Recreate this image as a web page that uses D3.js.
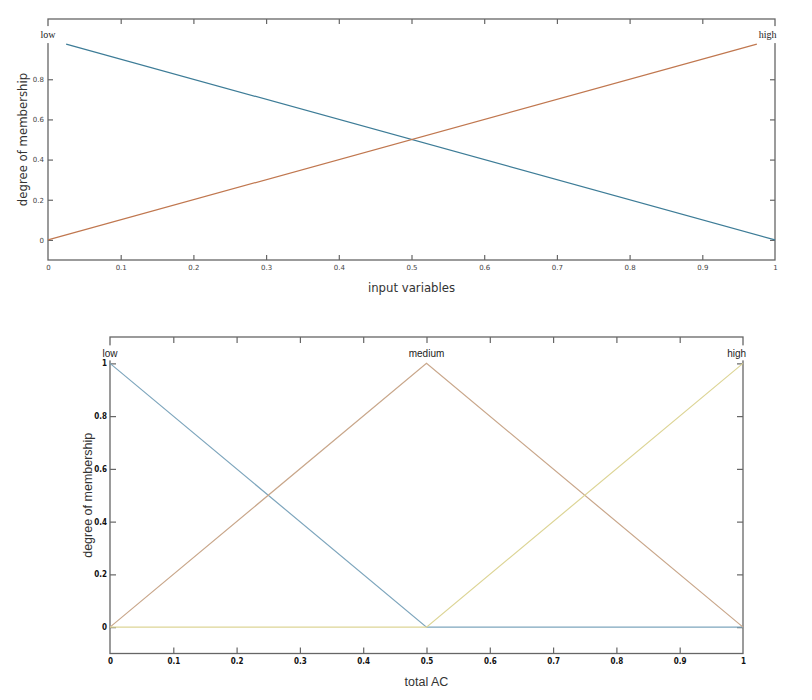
<!DOCTYPE html>
<html>
<head>
<meta charset="utf-8">
<script src="https://cdn.jsdelivr.net/npm/d3@7"></script>
<style>
  body { margin: 0; background: #fff; }
  svg { display: block; }
</style>
</head>
<body>
<div id="chart"></div>
<script>
// ---- data ----
const xTicks = [0, 0.1, 0.2, 0.3, 0.4, 0.5, 0.6, 0.7, 0.8, 0.9, 1];
const yTicksTop = [0, 0.2, 0.4, 0.6, 0.8];
const yTicksBottom = [0, 0.2, 0.4, 0.6, 0.8, 1];

// input membership functions (top panel)
const inLowX = [0.025, 1];
const inLowY = [0.975, 0];
const inHighX = [0, 0.975];
const inHighY = [0, 0.975];
const inLabels = ["low", "high"];
const inLabelX = [0, 0.99];

// output membership functions (bottom panel)
const outLowX = [0, 0.5, 1];
const outLowY = [1, 0, 0];
const outMedX = [0, 0.5, 1];
const outMedY = [0, 1, 0];
const outHighX = [0, 0.5, 1];
const outHighY = [0, 0, 1];
const outLabels = ["low", "medium", "high"];
const outLabelX = [0, 0.5, 0.99];

const svg = d3.select("#chart").append("svg")
    .attr("width", 812)
    .attr("height", 700);

function zip(xs, ys) {
    return xs.map((v, i) => [v, ys[i]]);
}

function drawPanel(cfg) {
    const x = d3.scaleLinear().domain([0, 1]).range([cfg.left, cfg.right]);
    const y = d3.scaleLinear().domain([-0.1, 1.1]).range([cfg.bottom, cfg.top]);
    const g = svg.append("g");
    const axisColor = "#666";

    // box
    g.append("rect")
        .attr("x", cfg.left).attr("y", cfg.top)
        .attr("width", cfg.right - cfg.left).attr("height", cfg.bottom - cfg.top)
        .attr("fill", "none").attr("stroke", axisColor).attr("stroke-width", 1.3);

    // mf labels with white background (drawn before ticks so tick labels stay visible)
    const labelLayer = g.append("g");

    // ticks
    const inner = xTicks.filter(d => d > 0 && d < 1);
    const bx = g.append("g").attr("transform", "translate(0," + cfg.bottom + ")")
        .call(d3.axisBottom(x).tickValues(xTicks).tickSize(-cfg.tick).tickPadding(cfg.xPad)
            .tickFormat(d3.format("")));
    bx.selectAll("line").filter(d => d === 0 || d === 1).remove();
    g.append("g").attr("transform", "translate(0," + cfg.top + ")")
        .call(d3.axisTop(x).tickValues(inner).tickSize(-cfg.tick).tickFormat(""));
    g.append("g").attr("transform", "translate(" + cfg.left + ",0)")
        .call(d3.axisLeft(y).tickValues(cfg.yTicks).tickSize(-cfg.tick).tickPadding(cfg.yPad)
            .tickFormat(d3.format("")));
    g.append("g").attr("transform", "translate(" + cfg.right + ",0)")
        .call(d3.axisRight(y).tickValues(cfg.yTicks).tickSize(-cfg.tick).tickFormat(""));

    g.selectAll(".domain").remove();
    g.selectAll(".tick line").attr("stroke", axisColor).attr("stroke-width", 1.2);
    g.selectAll(".tick text")
        .attr("fill", cfg.tickColor)
        .style("font-family", cfg.tickFont)
        .style("font-size", cfg.tickSize + "px")
        .style("font-weight", cfg.tickWeight);

    // curves
    const line = d3.line().x(d => x(d[0])).y(d => y(d[1]));
    cfg.series.forEach(s => {
        g.append("path")
            .attr("d", line(s.pts))
            .attr("fill", "none")
            .attr("stroke", s.color)
            .attr("stroke-width", 1.2);
    });

    cfg.labels.forEach((lab, i) => {
        const lg = labelLayer.append("g");
        const bg = lg.append("rect").attr("fill", "#fff");
        const t = lg.append("text")
            .attr("x", x(cfg.labelX[i]))
            .attr("y", y(1) - cfg.labelOff)
            .attr("text-anchor", "middle")
            .attr("fill", "#222")
            .style("font-family", cfg.labelFont)
            .style("font-size", cfg.labelSize + "px")
            .text(lab);
        const bb = t.node().getBBox();
        bg.attr("x", bb.x - 1).attr("y", bb.y - 3)
            .attr("width", bb.width + 2).attr("height", bb.height + cfg.labelPadB);
    });

    // axis titles
    g.append("text")
        .attr("x", (cfg.left + cfg.right) / 2)
        .attr("y", cfg.xTitleY)
        .attr("text-anchor", "middle")
        .attr("fill", "#333")
        .style("font-family", cfg.titleFont)
        .style("font-size", cfg.titleSize + "px")
        .text(cfg.xTitle);
    g.append("text")
        .attr("transform", "translate(" + cfg.yTitleX + "," + y(0.5) + ") rotate(-90)")
        .attr("text-anchor", "middle")
        .attr("fill", "#333")
        .style("font-family", cfg.titleFont)
        .style("font-size", cfg.titleSize + "px")
        .text("degree of membership");
}

drawPanel({
    left: 48, right: 775, top: 19, bottom: 260,
    tick: 5, xPad: 5, yPad: 4,
    yTicks: yTicksTop,
    tickColor: "#444", tickFont: "'DejaVu Sans'", tickSize: 7, tickWeight: "normal",
    series: [
        {pts: zip(inLowX, inLowY), color: "#3d7c97"},
        {pts: zip(inHighX, inHighY), color: "#c0774f"}
    ],
    labels: inLabels, labelX: inLabelX, labelOff: 1, labelPadB: 6,
    labelFont: "'Liberation Serif'", labelSize: 10,
    xTitle: "input variables", xTitleY: 292,
    yTitleX: 27,
    titleFont: "'DejaVu Sans Condensed', 'DejaVu Sans'", titleSize: 13
});

drawPanel({
    left: 110, right: 743, top: 337, bottom: 653.5,
    tick: 6, xPad: 5, yPad: 3,
    yTicks: yTicksBottom,
    tickColor: "#111", tickFont: "'Liberation Sans Narrow', 'DejaVu Sans Condensed', 'Liberation Sans'", tickSize: 8, tickWeight: "bold",
    series: [
        {pts: zip(outLowX, outLowY), color: "#7ea6bd"},
        {pts: zip(outMedX, outMedY), color: "#c9a78b"},
        {pts: zip(outHighX, outHighY), color: "#ddd596"}
    ],
    labels: outLabels, labelX: outLabelX, labelOff: 6, labelPadB: 4,
    labelFont: "'Liberation Sans'", labelSize: 10,
    xTitle: "total AC", xTitleY: 686,
    yTitleX: 92,
    titleFont: "'Liberation Sans Narrow', 'Liberation Sans'", titleSize: 12.5
});
</script>
</body>
</html>
